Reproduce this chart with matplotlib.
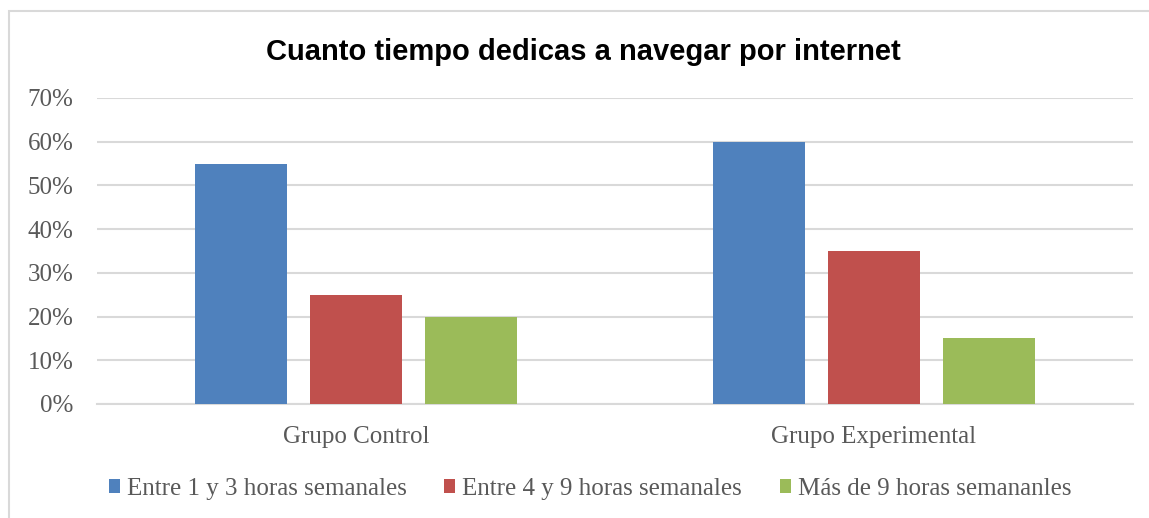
import matplotlib
matplotlib.use("Agg")
import matplotlib.pyplot as plt
from matplotlib.patches import Rectangle
import numpy as np

categories = ["Grupo Control", "Grupo Experimental"]
series_names = ["Entre 1 y 3 horas semanales",
                "Entre 4 y 9 horas semanales",
                "Más de 9 horas semananles"]
entre_1_3 = [0.55, 0.60]
entre_4_9 = [0.25, 0.35]
mas_de_9 = [0.20, 0.15]
y_ticks = [0, 0.1, 0.2, 0.3, 0.4, 0.5, 0.6, 0.7]
y_labels = ["0%", "10%", "20%", "30%", "40%", "50%", "60%", "70%"]

colors = ["#4F81BD", "#C0504D", "#9BBB59"]
text_color = "#595959"
serif = ["Liberation Serif", "DejaVu Serif"]
fsize = 18

W, H = 1149, 518
fig = plt.figure(figsize=(W / 100, H / 100), dpi=100)
ax = fig.add_axes([97 / W, (H - 404) / H, (1133 - 97) / W, (404 - 98) / H])

# outer chart border (light gray)
fig.patches.append(Rectangle((9 / W, -0.1), 1.2, 1.1 - 11 / H, transform=fig.transFigure,
                             fill=False, edgecolor="#D9D9D9", linewidth=1.5))

x = np.arange(len(categories))
width = 0.176
offset = 0.222
for i, vals in enumerate([entre_1_3, entre_4_9, mas_de_9]):
    ax.bar(x + (i - 1) * offset, vals, width, color=colors[i], label=series_names[i], zorder=3)

ax.set_xlim(-0.5, 1.5)
ax.set_ylim(0, 0.7)
ax.set_yticks(y_ticks)
ax.set_yticklabels(y_labels, fontfamily=serif, fontsize=fsize, color=text_color)
ax.set_xticks(x)
ax.set_xticklabels(categories, fontfamily=serif, fontsize=fsize, color=text_color)
ax.tick_params(axis="both", length=0)
ax.tick_params(axis="y", pad=17)
ax.tick_params(axis="x", pad=16)
ax.grid(axis="y", color="#D9D9D9", linewidth=1.5, zorder=0)
for s in ["top", "right", "left"]:
    ax.spines[s].set_visible(False)
ax.spines["bottom"].set_color("#D9D9D9")
ax.spines["bottom"].set_linewidth(1.5)

fig.text(583 / W, 1 - 60 / H, "Cuanto tiempo dedicas a navegar por internet",
         ha="center", va="baseline", fontsize=21, fontweight="bold",
         fontfamily=["Liberation Sans", "DejaVu Sans"], color="black")

fig.legend(loc="center", bbox_to_anchor=(590 / W, 1 - 489 / H), ncol=3, frameon=False,
           prop={"family": serif, "size": fsize}, labelcolor=text_color,
           handlelength=0.44, handleheight=0.44, handletextpad=0.28, columnspacing=1.5)

fig.savefig("out.png", dpi=100, facecolor="white")
